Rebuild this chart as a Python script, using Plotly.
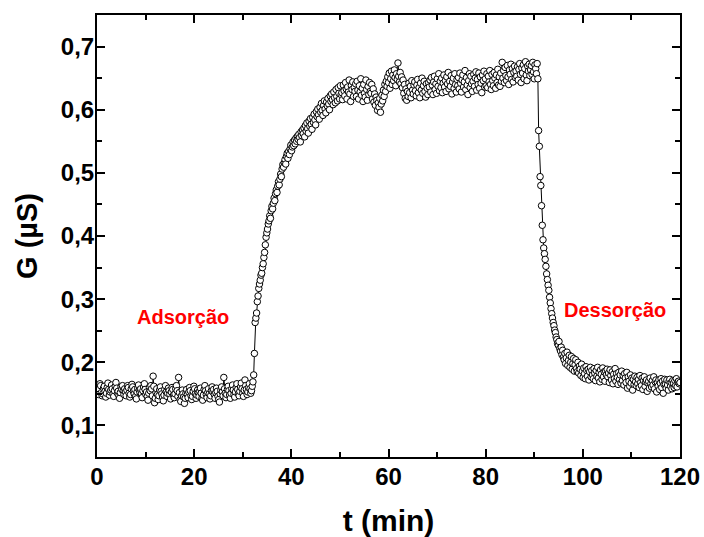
import plotly.graph_objects as go

# Sampling interval of the recorded conductance (min)
STEP_MIN = 0.15

# Conductance G in units of 0.001 uS
baseline_start = 0.0
baseline_G = [
    161,155,149,158,166,163,152,147,150,159,162,154,145,151,160,167,157,148,153,156,
    164,158,150,146,155,162,168,159,151,154,147,143,152,161,157,163,155,149,158,153,
    147,156,163,160,151,145,149,158,165,161,154,150,157,146,142,153,159,164,156,152,
    158,150,144,155,161,166,157,149,153,146,140,151,160,155,163,158,147,178,162,136,
    143,152,158,149,141,147,156,161,154,150,145,139,148,157,163,153,146,151,159,155,
    149,142,153,160,157,148,144,150,158,163,155,146,176,152,141,138,147,156,150,145,
    135,143,151,157,149,144,153,160,155,147,141,146,154,162,158,150,143,148,156,152,
    146,154,159,151,143,140,148,157,163,155,149,144,152,158,150,142,147,155,161,153,
    157,149,143,152,159,154,146,141,137,150,156,161,153,147,176,158,151,144,149,157,
    162,155,148,143,151,158,164,156,149,145,153,160,166,157,150,147,154,161,167,158,
    151,146,156,172,163,157,149,153,160,166,158,151,155,162,169,180,
]

adsorption_start = 32.4
adsorption_G = [
    214,263,270,278,296,305,317,324,330,338,341,350,356,366,374,386,398,405,411,419,
    424,432,428,440,447,443,452,460,456,467,473,469,479,486,481,490,498,494,506,513,
    509,516,521,514,526,531,523,534,529,538,544,535,541,549,543,552,546,555,550,558,
    553,561,556,549,565,559,568,562,571,557,575,566,579,570,563,582,574,586,577,569,
    588,580,593,584,576,597,589,601,592,585,604,596,610,599,591,607,614,601,595,612,
    606,618,609,600,622,613,625,616,608,628,619,611,632,621,614,635,626,617,638,624,
    627,616,639,630,622,643,633,617,636,628,647,625,613,638,632,644,621,635,629,641,
    621,645,631,617,638,628,649,623,634,613,640,626,620,647,632,615,637,624,643,629,
    626,640,617,633,612,625,607,620,615,599,611,604,618,596,609,623,614,631,621,640,
    629,645,637,652,643,658,634,649,661,640,655,646,663,651,638,657,648,674,653,644,
    659,641,652,635,647,626,640,618,633,615,629,621,642,627,637,619,646,631,625,639,
    644,630,622,639,648,627,635,619,642,631,650,626,638,645,629,620,641,634,624,643,
    636,647,628,651,639,624,644,653,632,641,626,649,637,657,630,645,635,650,627,642,
    655,636,646,629,652,641,659,633,645,637,654,625,644,650,634,657,640,628,648,638,
    651,633,658,642,628,647,655,636,644,662,632,651,639,624,646,657,635,653,641,629,
    645,656,637,650,660,631,648,640,658,634,652,642,627,655,646,661,636,649,638,657,
    635,653,644,662,640,632,656,646,638,659,650,634,655,643,664,639,652,637,658,645,
    675,650,662,643,667,654,646,670,652,640,663,656,672,648,665,644,659,669,651,661,
    653,668,647,664,673,656,643,666,658,671,649,665,676,655,646,669,661,672,654,663,
    670,656,675,660,649,671,665,657,673,649,
]

desorption_start = 90.9
desorption_G = [
    567,542,494,480,448,417,394,381,372,363,352,340,331,322,314,303,294,285,277,270,
    263,258,251,247,240,236,230,227,233,222,218,224,212,219,208,
    204,214,198,207,216,195,203,211,192,200,209,189,198,206,186,196,204,190,185,200,
    183,194,189,179,197,186,176,191,182,174,193,187,178,189,172,185,192,177,187,180,
    174,190,183,171,187,178,192,175,184,169,188,181,173,191,177,185,170,186,180,189,
    177,183,168,188,179,172,185,166,181,174,190,170,182,176,165,184,173,180,167,186,
    171,179,164,182,175,168,184,159,177,170,162,180,167,175,156,173,165,178,169,163,
    176,166,173,160,179,168,163,175,157,171,177,162,169,172,154,167,170,159,175,166,
    161,171,164,177,158,169,172,153,168,162,172,157,167,174,160,170,151,165,173,165,
    159,172,164,156,170,173,162,168,158,171,167,160,171,163,174,161,169,170,166,168,
]

x_ticks = [0, 20, 40, 60, 80, 100, 120]
y_ticks = [0.1, 0.2, 0.3, 0.4, 0.5, 0.6, 0.7]
labels = [("Adsorção", 17.7, 0.271), ("Dessorção", 106.7, 0.283)]

t, g = [], []
for start, vals in ((baseline_start, baseline_G),
                    (adsorption_start, adsorption_G),
                    (desorption_start, desorption_G)):
    for i, v in enumerate(vals):
        t.append(round(start + i * STEP_MIN, 3))
        g.append(v / 1000.0)

FONT = "Liberation Sans, Arial, sans-serif"

fig = go.Figure()
fig.add_trace(go.Scatter(
    x=t, y=g, mode="lines+markers",
    line=dict(color="black", width=1),
    marker=dict(symbol="circle", size=6.5, color="white",
                line=dict(color="black", width=1)),
    showlegend=False,
))

for text, xv, yv in labels:
    fig.add_annotation(x=xv, y=yv, xref="x", yref="y", text=text,
                       showarrow=False,
                       font=dict(family=FONT, size=20, color="#ff0000", weight="bold"))

axis_common = dict(
    showline=True, linecolor="black", linewidth=2, mirror="allticks",
    ticks="inside", ticklen=8, tickwidth=1.5, tickcolor="black",
    showgrid=False, zeroline=False, automargin=False,
    ticklabeloverflow="allow",
    tickfont=dict(family=FONT, size=24, color="black", weight="bold"),
)

fig.update_xaxes(
    range=[0, 120], tickvals=x_ticks,
    minor=dict(dtick=10, tick0=0, ticks="inside", ticklen=5, tickwidth=1.5, tickcolor="black"),
    title=dict(text="t (min)", standoff=27,
               font=dict(family=FONT, size=30, color="black", weight="bold")),
    ticklabelstandoff=-3,
    **axis_common,
)
fig.update_yaxes(
    range=[0.05, 0.75], tickvals=y_ticks, tickformat=".1f",
    minor=dict(dtick=0.05, tick0=0.05, ticks="inside", ticklen=5, tickwidth=1.5, tickcolor="black"),
    title=dict(text="G (µS)", standoff=15,
               font=dict(family=FONT, size=29, color="black", weight="bold")),
    ticklabelstandoff=-4,
    **axis_common,
)

fig.update_layout(
    width=704, height=537,
    margin=dict(l=97, r=24, t=15, b=80),
    paper_bgcolor="white", plot_bgcolor="white",
    separators=",.",
)

# remove the browser's default page margin so the figure fills the window exactly
fig.write_html(
    "out.html",
    config={"displayModeBar": False},
    post_script="document.body.style.margin='0';document.body.style.overflow='hidden';",
)
